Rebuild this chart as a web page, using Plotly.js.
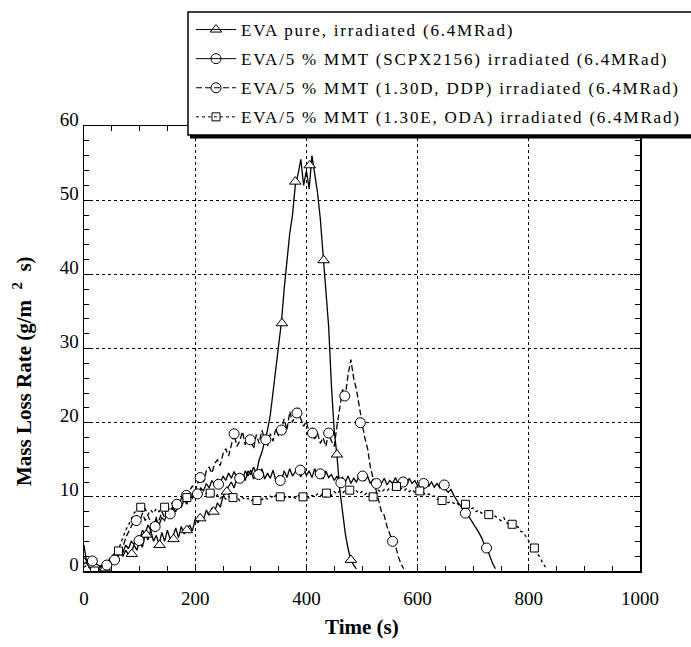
<!DOCTYPE html>
<html>
<head>
<meta charset="utf-8">
<script src="https://cdn.plot.ly/plotly-3.0.1.min.js"></script>
<style>
html,body{margin:0;padding:0;background:#fff;}
#chart{width:691px;height:647px;}
.legendtext{letter-spacing:1.8px;}
</style>
</head>
<body>
<div id="chart"></div>
<script>
// Time axis (s), sampled every 5 s
var time = [
0,5,10,15,20,25,30,35,40,45,50,55,60,65,70,75,80,85,90,95,
100,105,110,115,120,125,130,135,140,145,150,155,160,165,170,175,180,185,190,195,
200,205,210,215,220,225,230,235,240,245,250,255,260,265,270,275,280,285,290,295,
300,305,310,315,320,325,330,335,340,345,350,355,360,365,370,375,380,385,390,395,
400,405,410,415,420,425,430,435,440,445,450,455,460,465,470,475,480,485,490,495,
500,505,510,515,520,525,530,535,540,545,550,555,560,565,570,575,580,585,590,595,
600,605,610,615,620,625,630,635,640,645,650,655,660,665,670,675,680,685,690,695,
700,705,710,715,720,725,730,735,740,745,750,755,760,765,770,775,780,785,790,795,
800,805,810,815,820,825,830
];

// EVA pure, irradiated (6.4MRad)
var evaPure = [
3.5,1.0,0.5,0.3,0.2,0.3,0.2,0.3,0.4,0.8,1.5,2.0,1.8,2.5,2.0,2.8,2.2,2.5,3.5,2.8,
4.0,3.2,5.0,4.2,5.5,4.0,4.8,3.6,5.2,4.0,5.5,4.3,4.6,5.8,4.5,6.0,5.0,5.6,6.2,5.4,
7.0,6.5,7.4,7.0,8.2,7.5,8.5,8.0,9.2,8.6,10.0,10.8,11.5,12.0,11.2,12.5,12.0,13.0,12.2,13.5,
13.0,14.0,13.2,15.0,16.0,17.5,19.0,21.0,24.0,27.0,30.0,33.5,38.0,42.0,45.5,48.0,52.0,53.5,55.5,52.0,
54.0,51.5,56.0,53.5,51.0,47.5,43.0,38.0,33.0,25.0,19.0,15.5,11.0,8.0,5.0,3.0,1.5,0.8,0.3
];
// EVA/5 % MMT (SCPX2156)
var scpx = [
1.0,1.2,1.0,1.3,1.1,0.8,0.7,0.8,0.8,1.2,1.4,1.5,2.2,2.8,2.5,3.5,3.0,4.0,3.6,4.5,
4.1,5.5,5.0,6.2,5.5,6.0,7.0,6.2,7.2,6.8,8.0,7.5,8.5,8.0,9.0,8.6,9.6,9.0,10.2,9.8,
10.8,10.2,11.2,10.8,11.8,11.2,12.2,11.6,12.4,11.8,12.8,12.2,13.2,12.5,13.4,12.6,13.0,12.2,13.5,12.8,
13.6,12.4,13.0,12.6,13.8,12.4,13.2,12.5,13.6,12.2,12.8,12.2,13.5,12.6,13.8,12.8,13.4,13.6,12.7,13.8,
12.9,13.5,12.6,13.8,12.8,13.2,12.4,13.5,12.6,13.0,12.2,12.8,11.9,12.6,12.0,12.8,11.8,12.5,12.0,12.8,
12.6,12.2,12.8,11.8,12.4,11.6,12.2,11.8,12.5,11.6,12.2,11.8,12.6,11.8,12.4,12.0,11.6,12.5,11.8,12.2,
11.5,12.0,11.6,12.2,11.4,12.0,11.3,11.8,11.2,11.6,11.0,10.6,11.0,10.2,9.5,9.0,8.5,7.8,7.6,7.0,
6.5,5.8,5.2,4.5,3.6,3.0,2.0,1.0,0.3
];
// EVA/5 % MMT (1.30D, DDP)
var ddp = [
1.8,1.5,1.2,1.3,1.0,0.8,0.6,0.7,0.8,1.2,1.5,1.5,2.0,2.8,3.2,4.5,5.2,6.0,6.8,7.5,
6.5,7.8,6.8,7.5,6.5,6.0,7.2,6.8,8.0,7.2,8.5,7.8,8.8,9.2,8.6,9.8,10.4,9.6,10.8,11.5,
10.8,12.0,12.6,12.0,13.5,14.0,13.2,14.5,15.0,14.2,15.8,16.5,15.5,17.0,18.5,16.8,17.5,18.8,17.0,18.2,
17.6,16.5,18.4,17.2,19.0,17.7,16.8,18.5,17.5,19.2,18.2,19.0,20.5,19.0,21.5,20.0,21.3,22.0,20.5,19.5,
20.2,18.6,19.4,17.8,18.6,17.2,18.0,16.8,18.6,17.5,16.8,19.5,22.0,24.5,23.6,26.5,28.5,26.0,24.5,22.0,
20.0,18.0,16.5,14.0,12.5,11.0,9.5,8.0,7.5,6.0,5.0,4.0,3.5,2.0,1.0,0.3
];
// EVA/5 % MMT (1.30E, ODA)
var oda = [
0.5,0.8,0.4,0.2,0.1,0.3,0.5,0.8,1.0,1.5,2.0,2.4,2.8,3.5,4.5,5.5,6.2,7.0,7.8,8.2,
8.6,8.0,8.4,7.6,8.2,7.8,8.4,8.0,8.6,8.4,8.8,9.0,9.2,9.4,9.6,9.8,10.0,9.8,10.2,10.0,
10.4,10.2,10.6,10.3,10.5,10.4,10.2,10.0,10.3,9.8,10.1,9.7,10.0,9.9,9.6,10.0,9.5,9.9,9.6,9.8,
9.4,9.7,9.5,9.8,9.6,10.0,9.7,10.1,9.8,10.2,9.9,10.0,9.8,10.2,9.9,10.1,9.8,10.2,9.9,10.0,
10.3,9.8,10.2,10.0,10.4,10.1,10.5,10.4,10.6,10.2,10.7,10.4,10.8,10.5,10.9,10.6,10.9,10.5,10.8,10.4,
10.7,10.3,10.6,10.2,10.1,10.6,10.9,10.6,11.0,10.8,11.2,11.0,11.4,10.9,11.2,10.8,11.1,10.7,11.0,10.6,
10.8,10.5,10.6,10.2,10.4,10.0,10.1,9.7,9.6,9.5,9.6,9.2,9.4,9.1,9.3,8.8,9.1,9.0,8.6,8.4,
8.5,8.0,8.2,7.8,7.9,7.6,7.7,7.2,7.4,7.0,6.8,7.2,6.5,6.3,6.3,5.9,6.0,5.4,5.2,4.6,
4.0,3.5,3.1,2.4,1.8,1.0,0.5
];

// Marker positions
var evaMarkT = [38,86,112,136,161,185,209,233,257,356,380,406,431,455,480];
var evaMarkV = [0.35,2.3,4.9,3.5,4.3,5.5,7.1,8.0,10.7,33.4,52.5,54.7,41.9,15.7,1.5];
var scpxMarkT = [55,99,155,184,209,242,280,314,353,389,425,462,501,526,574,611,648,686,724];
var scpxMarkV = [1.5,4.1,7.7,10.2,12.6,11.7,12.5,13.0,12.2,13.6,13.1,11.9,12.8,11.8,12.0,11.8,11.6,7.8,3.1];
var ddpMarkT = [15,41,94,128,167,204,270,299,327,355,383,411,440,469,497,555];
var ddpMarkV = [1.35,0.8,6.8,6.0,9.0,10.4,18.5,17.7,17.7,19.0,21.3,18.6,18.6,23.6,20.0,4.0];
var odaMarkT = [19,62,102,145,185,227,268,311,353,394,436,478,520,562,604,644,686,728,770,810];
var odaMarkV = [0.0,2.7,8.6,8.6,9.9,10.5,9.9,9.5,10.0,10.0,10.5,10.9,10.0,11.4,10.8,9.5,9.0,7.6,6.3,3.1];

var seriesNames = [
  'EVA pure, irradiated (6.4MRad)',
  'EVA/5 % MMT (SCPX2156) irradiated (6.4MRad)',
  'EVA/5 % MMT (1.30D, DDP) irradiated (6.4MRad)',
  'EVA/5 % MMT (1.30E, ODA) irradiated (6.4MRad)'
];

var yTitle = 'Mass Loss Rate (g/m\u00A0\u00A0<sup>2</sup>\u00A0\u00A0s)';
var xTitle = 'Time (s)';

var FONT = '"Liberation Serif", "Times New Roman", Times, serif';

var series = [
  {y: evaPure, mt: evaMarkT, mv: evaMarkV, dash: 'solid', sym: 'triangle-up-open', size: 10},
  {y: scpx, mt: scpxMarkT, mv: scpxMarkV, dash: 'solid', sym: 'circle-open', size: 10},
  {y: ddp, mt: ddpMarkT, mv: ddpMarkV, dash: '6px,3px', sym: 'circle-open', size: 10},
  {y: oda, mt: odaMarkT, mv: odaMarkV, dash: 'dot', sym: 'square-open', size: 8}
];

var traces = [];
series.forEach(function(s){
  traces.push({
    x: time.slice(0, s.y.length), y: s.y, type: 'scatter', mode: 'lines',
    line: {color: '#000', width: 1.3, dash: s.dash}, showlegend: false, hoverinfo: 'skip'
  });
});
series.forEach(function(s){
  traces.push({
    x: s.mt, y: s.mv, type: 'scatter', mode: 'markers',
    marker: {symbol: s.sym.replace('-open',''), size: s.size - 1, color: '#fff'},
    showlegend: false, hoverinfo: 'skip'
  });
  traces.push({
    x: s.mt, y: s.mv, type: 'scatter', mode: 'markers',
    marker: {symbol: s.sym, size: s.size, color: '#000', line: {width: 1, color: '#000'}},
    showlegend: false, hoverinfo: 'skip'
  });
});
series.forEach(function(s, i){
  traces.push({
    x: [null], y: [null], type: 'scatter', mode: 'lines+markers', name: seriesNames[i],
    legendgroup: 'g' + i,
    line: {color: '#000', width: 1, dash: s.dash},
    marker: {symbol: s.sym, size: s.size, color: '#000', line: {width: 1, color: '#000'}}
  });
});

var L = 84, R = 640, T = 126, B = 571;
function px(xp){ return (xp - L) / (R - L); }
function py(yp){ return (B - yp) / (B - T); }

var layout = {
  width: 691, height: 647,
  margin: {l: L, r: 691 - R, t: T, b: 647 - B, pad: 0, autoexpand: false},
  paper_bgcolor: '#fff', plot_bgcolor: '#fff',
  font: {family: FONT, color: '#000'},
  showlegend: true,
  legend: {
    x: px(191), y: py(12), xanchor: 'left', yanchor: 'top',
    bgcolor: 'rgba(0,0,0,0)', borderwidth: 0,
    font: {family: FONT, size: 17, color: '#000'},
    itemwidth: 40, traceorder: 'grouped', tracegroupgap: 4,
    itemclick: false, itemdoubleclick: false
  },
  xaxis: {
    range: [0, 1000], dtick: 200, tick0: 0,
    ticks: 'inside', ticklen: 6, tickwidth: 1, tickcolor: '#000',
    showline: true, linecolor: '#000', linewidth: 1.5, mirror: 'ticks',
    showgrid: true, gridcolor: '#000', griddash: 'dot', gridwidth: 1,
    zeroline: false,
    minor: {dtick: 50, ticks: 'inside', ticklen: 5, tickcolor: '#000', tickwidth: 1, showgrid: false},
    tickfont: {family: FONT, size: 19, color: '#000'},
    ticklabelstandoff: 10
  },
  yaxis: {
    range: [0, 60], dtick: 10, tick0: 0,
    ticks: 'inside', ticklen: 6, tickwidth: 1, tickcolor: '#000',
    showline: true, linecolor: '#000', linewidth: 1.5, mirror: 'ticks',
    showgrid: true, gridcolor: '#000', griddash: 'dot', gridwidth: 1,
    zeroline: false,
    minor: {dtick: 2, ticks: 'inside', ticklen: 5, tickcolor: '#000', tickwidth: 1, showgrid: false},
    tickfont: {family: FONT, size: 19, color: '#000'},
    ticklabelshift: -7, ticklabelstandoff: 0
  },
  shapes: [
    {type: 'rect', xref: 'paper', yref: 'paper', layer: 'above',
     x0: px(190), x1: px(720), y0: py(138.5), y1: py(15),
     fillcolor: '#000', line: {width: 0}},
    {type: 'rect', xref: 'paper', yref: 'paper', layer: 'above',
     x0: px(188), x1: px(715), y0: py(135), y1: py(12),
     fillcolor: '#fff', line: {color: '#000', width: 1.5}}
  ],
  annotations: [
    {text: '<b>' + yTitle + '</b>', xref: 'paper', yref: 'paper',
     x: px(22), y: py(371), xanchor: 'center', yanchor: 'middle', textangle: -90,
     showarrow: false, font: {family: FONT, size: 21, color: '#000'}},
    {text: '<b>' + xTitle + '</b>', xref: 'paper', yref: 'paper',
     x: px(362), y: py(627), xanchor: 'center', yanchor: 'middle',
     showarrow: false, font: {family: FONT, size: 21, color: '#000'}}
  ]
};

Plotly.newPlot('chart', traces, layout, {displayModeBar: false, staticPlot: true});
</script>
</body>
</html>
